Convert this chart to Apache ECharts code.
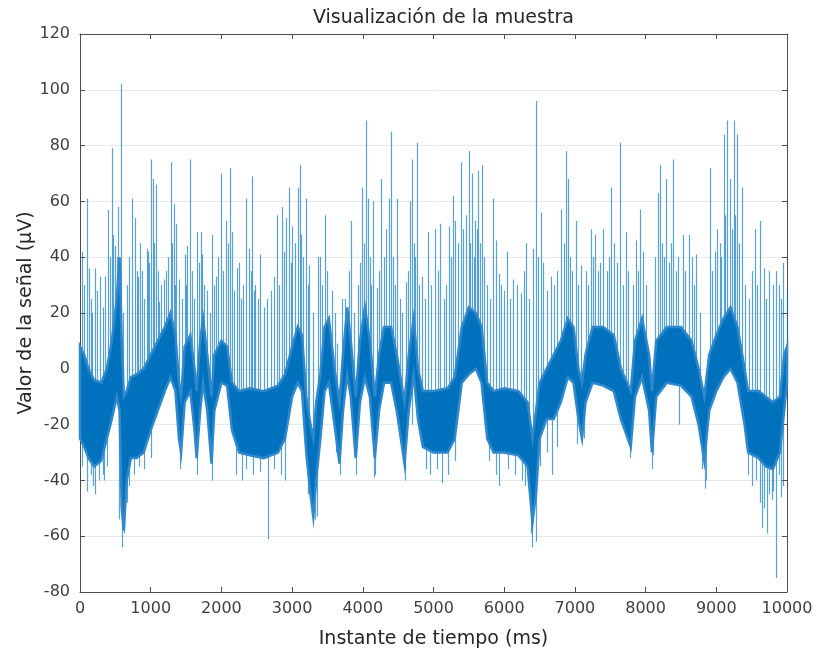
<!DOCTYPE html>
<html>
<head>
<meta charset="utf-8">
<script src="https://cdn.jsdelivr.net/npm/echarts@6/dist/echarts.min.js"></script>
<style>html,body{margin:0;padding:0;background:#fff;}#c{width:817px;height:654px;}</style>
</head>
<body>
<div id="c"></div>
<script>
// Dense core of the signal: upper and lower edges (ms, µV)
const bandTime = [0,60,120,200,300,380,450,520,560,590,620,660,720,800,900,1000,1100,1200,1280,1350,1400,1430,1480,1560,1620,1650,1700,1740,1800,1860,1900,2000,2080,2150,2250,2400,2600,2800,2900,3000,3080,3140,3200,3260,3300,3340,3400,3460,3520,3600,3670,3720,3780,3830,3900,3960,4030,4100,4170,4230,4300,4400,4480,4590,4650,4720,4780,4850,5000,5200,5300,5400,5500,5600,5680,5760,5850,6000,6200,6330,6400,6450,6500,6600,6700,6800,6900,6980,7050,7100,7150,7250,7400,7550,7650,7790,7850,7950,8050,8090,8150,8300,8500,8650,8750,8830,8900,9000,9100,9200,9300,9400,9450,9600,9700,9800,9900,9960,10000];
const bandHi = [8,5,0,-4,-5,0,10,25,40,10,-10,-8,-3,-2,0,5,10,15,20,12,-5,-10,8,12,0,-8,10,18,5,-10,5,10,8,-5,-8,-7,-8,-6,-2,8,15,12,-10,-20,-25,-12,-2,15,18,0,-12,5,22,10,-10,10,22,10,-10,5,15,15,5,-12,5,18,0,-8,-8,-7,-3,15,22,20,15,-5,-8,-7,-8,-12,-25,-15,-5,0,5,10,18,15,0,-5,5,15,15,12,0,-8,10,18,5,-8,10,15,15,10,0,-10,5,12,18,22,15,0,-8,-8,-10,-12,-10,5,8];
const bandLo = [-25,-28,-32,-35,-33,-25,-18,-10,-15,-50,-58,-40,-32,-32,-30,-22,-15,-8,-3,-8,-25,-30,-12,-8,-22,-32,-15,-5,-15,-34,-15,-5,-6,-22,-30,-31,-32,-30,-25,-10,-5,-8,-30,-45,-53,-40,-25,-8,-5,-20,-34,-15,-2,-10,-32,-12,-3,-10,-32,-15,-5,-5,-15,-34,-15,-2,-18,-28,-30,-30,-25,-5,-2,0,-5,-25,-30,-30,-31,-35,-55,-45,-25,-18,-18,-12,-3,-5,-18,-25,-12,-5,-6,-8,-18,-28,-10,-3,-15,-30,-10,-5,-6,-10,-20,-33,-15,-8,-3,0,-5,-20,-30,-32,-35,-36,-30,-15,-5];

// Tall isolated peaks above the core (ms, µV)
const spikeUpTime = [35,106,176,214,280,398,450,496,544,577,741,774,826,845,944,962,1005,1033,1071,1118,1188,1282,1329,1362,1400,1485,1518,1551,1659,1706,1729,1871,1918,1988,2059,2115,2153,2214,2247,2341,2388,2435,2482,2553,2741,2788,2859,2915,2953,3000,3085,3108,3202,3245,3367,3391,3471,3635,3752,3831,3963,3995,4042,4070,4150,4206,4258,4375,4403,4487,4604,4665,4698,4768,4843,4923,5026,5096,5213,5274,5311,5391,5499,5541,5592,5635,5682,5845,5883,5920,6037,6131,6244,6314,6412,6445,6515,6656,6810,6877,6900,7009,7081,7223,7284,7398,7517,7635,7720,7863,7924,7957,8171,8204,8289,8393,8526,8611,8716,8905,9014,9104,9152,9190,9246,9294,9365,9545,9616,9673,9796,9844,9948,9995];
const spikeUpValue = [42,61,20,36,33,57,79,44,58,102,61,54,33,45,43,42,75,68,66,24,32,74,59,52,32,41,44,75,49,49,41,48,33,70,53,72,49,36,38,61,43,69,30,41,33,55,58,54,65,51,65,73,61,37,40,40,55,9,25,53,38,65,89,61,60,29,68,61,85,61,31,60,75,81,33,49,50,52,51,62,53,74,78,70,53,71,73,61,46,34,42,32,27,45,43,96,56,33,57,78,68,53,37,50,48,50,65,81,49,46,57,42,63,73,68,75,48,48,41,72,50,84,89,68,89,84,65,50,53,36,30,35,38,28];

// Smaller whiskers above the core (ms, µV)
const whiskerUpTime = [60,130,150,240,320,360,420,470,520,610,660,700,800,870,900,980,1050,1100,1150,1220,1250,1300,1350,1440,1500,1580,1610,1680,1760,1800,1840,1900,1950,2020,2090,2180,2280,2310,2420,2460,2520,2600,2650,2700,2820,2880,2980,3040,3130,3160,3230,3300,3420,3500,3560,3600,3700,3800,3870,3930,4010,4100,4120,4230,4300,4330,4430,4450,4520,4560,4640,4720,4740,4800,4880,4960,5060,5150,5180,5250,5340,5420,5460,5520,5570,5610,5660,5720,5760,5800,5960,6000,6080,6180,6280,6350,6480,6550,6600,6700,6750,6850,6930,6960,7040,7160,7190,7260,7330,7360,7450,7480,7560,7600,7680,7750,7820,7890,8000,8130,8230,8260,8330,8360,8430,8460,8560,8650,8690,8770,8940,8980,9050,9070,9130,9220,9270,9320,9400,9460,9500,9580,9700,9740,9880,9920];
const whiskerUpValue = [30,36,25,28,22,33,40,48,40,20,30,40,35,35,25,38,45,35,30,35,40,45,30,25,30,35,25,38,30,28,20,30,40,35,45,28,25,30,35,28,25,22,25,28,30,42,38,45,48,40,30,20,30,35,28,20,25,35,20,30,45,40,30,35,40,50,40,30,25,20,35,45,40,30,25,30,35,25,30,40,45,50,55,45,40,50,45,40,30,25,30,28,25,30,35,25,40,38,28,30,35,45,40,35,30,35,30,40,35,38,35,40,45,38,30,35,30,35,30,40,45,40,38,45,35,40,35,40,30,20,35,42,45,40,55,50,55,45,30,25,35,30,25,35,30,25];

// Dips below the core (ms, µV)
const spikeDownTime = [30,92,150,180,214,270,320,341,380,553,590,624,660,700,760,835,900,1000,1420,1650,1860,2200,2294,2350,2450,2550,2661,2750,2850,2906,3230,3282,3329,3354,3620,3672,3900,4164,4170,4590,4595,4700,4899,4950,5050,5124,5200,5300,5780,5880,5930,6050,6150,6250,6300,6375,6398,6445,6500,6600,6678,6750,7033,7128,7768,7780,8090,8100,8469,8800,8844,8860,9450,9500,9560,9620,9640,9680,9711,9740,9782,9800,9844,9880,9920,9948];
const spikeDownValue = [-35,-44,-38,-42,-45,-40,-38,-40,-35,-54,-64,-59,-48,-42,-38,-35,-36,-32,-36,-38,-40,-38,-40,-36,-38,-37,-61,-36,-38,-40,-45,-53,-54,-53,-30,-38,-38,-39,-38,-40,-36,-20,-36,-38,-36,-41,-38,-33,-33,-38,-42,-36,-38,-40,-42,-59,-64,-62,-35,-30,-38,-28,-27,-25,-27,-32,-36,-31,-20,-36,-43,-40,-38,-42,-40,-48,-57,-50,-59,-45,-47,-44,-75,-38,-46,-42];

const BLUE = '#0072BD';
const FONT = 'DejaVu Sans';

function bandMid(t) {
  for (let i = 0; i < bandTime.length - 1; i++) {
    if (t >= bandTime[i] && t <= bandTime[i + 1]) {
      const f = (t - bandTime[i]) / (bandTime[i + 1] - bandTime[i] || 1);
      const hi = bandHi[i] + f * (bandHi[i + 1] - bandHi[i]);
      const lo = bandLo[i] + f * (bandLo[i + 1] - bandLo[i]);
      return (hi + lo) / 2;
    }
  }
  return 0;
}

const bandData = bandTime.map((t, i) => [t, bandHi[i], bandLo[i]]);
const spikeData = spikeUpTime.map((t, i) => [t, spikeUpValue[i]])
  .concat(whiskerUpTime.map((t, i) => [t, whiskerUpValue[i]]))
  .concat(spikeDownTime.map((t, i) => [t, spikeDownValue[i]]));

const chart = echarts.init(document.getElementById('c'), null, {renderer: 'canvas'});

function axisCommon() {
  return {
    type: 'value',
    axisLine: {show: true, onZero: false, lineStyle: {color: '#4d4d4d', width: 1}},
    axisTick: {show: true, inside: true, length: 5, lineStyle: {color: '#4d4d4d'}},
  };
}
const plain = v => String(v);

chart.setOption({
  animation: false,
  backgroundColor: '#ffffff',
  title: {
    text: 'Visualización de la muestra',
    left: 308, top: 4,
    textStyle: {fontFamily: FONT, fontSize: 19, fontWeight: 'normal', color: '#262626'}
  },
  grid: {left: 80, right: 30, top: 34, bottom: 62, containLabel: false},
  xAxis: [
    Object.assign(axisCommon(), {
      min: 0, max: 10000, interval: 1000, position: 'bottom',
      name: 'Instante de tiempo (ms)', nameLocation: 'middle', nameGap: 38,
      nameTextStyle: {fontFamily: FONT, fontSize: 19, color: '#262626'},
      axisLabel: {fontFamily: FONT, fontSize: 16, color: '#404040', margin: 9, formatter: plain},
      splitLine: {show: false}
    }),
    Object.assign(axisCommon(), {
      min: 0, max: 10000, interval: 1000, position: 'top',
      axisLabel: {show: false}, splitLine: {show: false}
    })
  ],
  yAxis: [
    Object.assign(axisCommon(), {
      min: -80, max: 120, interval: 20, position: 'left',
      name: 'Valor de la señal (μV)', nameLocation: 'middle', nameGap: 44,
      nameMoveOverlap: false,
      nameTextStyle: {fontFamily: FONT, fontSize: 19, color: '#262626'},
      axisLabel: {fontFamily: FONT, fontSize: 16, color: '#404040', margin: 10, formatter: plain},
      splitLine: {show: true, lineStyle: {color: '#e8e8e8', width: 1}}
    }),
    Object.assign(axisCommon(), {
      min: -80, max: 120, interval: 20, position: 'right',
      axisLabel: {show: false}, splitLine: {show: false}
    })
  ],
  series: [
    {
      type: 'custom',
      name: 'picos',
      data: spikeData,
      encode: {x: 0, y: 1},
      z: 2,
      renderItem: function (params, api) {
        const t = api.value(0);
        const v = api.value(1);
        const p1 = api.coord([t, v]);
        const p0 = api.coord([t, bandMid(t)]);
        return {
          type: 'line',
          shape: {x1: Math.round(p0[0]) + 0.5, y1: p0[1], x2: Math.round(p1[0]) + 0.5, y2: p1[1]},
          style: {stroke: BLUE, lineWidth: 1.2, opacity: 0.65}
        };
      }
    },
    {
      type: 'custom',
      name: 'señal',
      data: bandData,
      encode: {x: 0, y: [1, 2]},
      z: 3,
      renderItem: function (params, api) {
        if (params.dataIndex !== 0) return null;
        const top = bandData.map(d => api.coord([d[0], d[1]]));
        const bot = bandData.map(d => api.coord([d[0], d[2]])).reverse();
        return {
          type: 'polygon',
          shape: {points: top.concat(bot)},
          style: {fill: BLUE, stroke: '#2f88cb', lineWidth: 2.5}
        };
      }
    }
  ]
});
</script>
</body>
</html>
